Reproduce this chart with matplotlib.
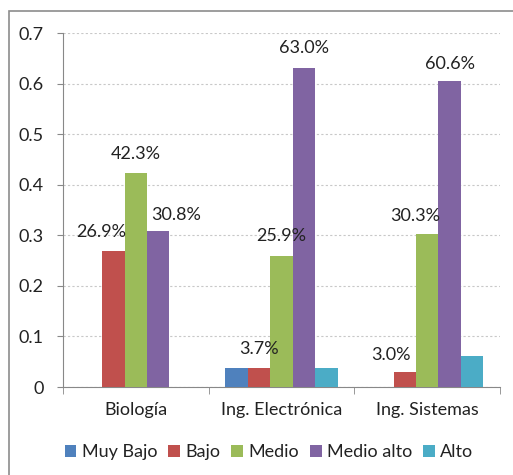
import matplotlib
matplotlib.use("Agg")
import matplotlib.pyplot as plt
import numpy as np
from matplotlib.patches import Rectangle

categories = ["Biología", "Ing. Electrónica", "Ing. Sistemas"]
series_names = ["Muy Bajo", "Bajo", "Medio", "Medio alto", "Alto"]
muy_bajo = [0.0, 0.037, 0.0]
bajo = [0.269, 0.037, 0.030]
medio = [0.423, 0.259, 0.303]
medio_alto = [0.308, 0.630, 0.606]
alto = [0.0, 0.037, 0.061]
yticks = [0, 0.1, 0.2, 0.3, 0.4, 0.5, 0.6, 0.7]
ytick_labels = ["0", "0.1", "0.2", "0.3", "0.4", "0.5", "0.6", "0.7"]
# labels: (series index, category index, text)
labels = [(1, 0, "26.9%"), (2, 0, "42.3%"), (3, 0, "30.8%"),
          (1, 1, "3.7%"), (2, 1, "25.9%"), (3, 1, "63.0%"),
          (1, 2, "3.0%"), (2, 2, "30.3%"), (3, 2, "60.6%")]
# label pixel offsets (dx, dy) from bar top center
label_offsets = [(-12, 19), (0, 19), (18, 16),
                 (0, 19), (0, 20), (0, 20),
                 (-14, 17), (-12, 18), (0, 17)]

colors = ["#4F81BD", "#C0504D", "#9BBB59", "#8064A2", "#4BACC6"]
values = [muy_bajo, bajo, medio, medio_alto, alto]

plt.rcParams['font.family'] = ['Lato', 'DejaVu Sans']
FS = 13

W, H = 513, 475
fig = plt.figure(figsize=(W / 100, H / 100), dpi=100)
ax = fig.add_axes([63 / W, 1 - 387 / H, 437 / W, 354 / H])

n = len(series_names)
bw = 0.154
x = np.arange(len(categories))
bars = []
for i, (name, vals, c) in enumerate(zip(series_names, values, colors)):
    b = ax.bar(x + (i - (n - 1) / 2) * bw, vals, bw, color=c, label=name, zorder=3)
    bars.append(b)

for (si, ci, txt), (dx, dy) in zip(labels, label_offsets):
    rect = bars[si][ci]
    ax.annotate(txt, (rect.get_x() + rect.get_width() / 2, rect.get_height()),
                xytext=(dx, dy), textcoords='offset pixels',
                ha='center', va='center', fontsize=FS, color='#222222')

ax.set_xlim(-0.5, len(categories) - 0.5)
ax.set_ylim(0, 0.7)
ax.set_yticks(yticks)
ax.set_yticklabels(ytick_labels, fontsize=FS, color='#222222')
ax.set_xticks(x)
ax.set_xticklabels(categories, fontsize=FS, color='#222222')
ax.tick_params(axis='x', length=0, pad=11)
ax.tick_params(axis='y', length=4, color='#888888', pad=10)
ax.set_xticks(np.arange(-0.5, len(categories), 1), minor=True)
ax.tick_params(axis='x', which='minor', length=5, color='#888888')
ax.grid(axis='y', linestyle=(0, (2, 2)), color='#C8C8C8', linewidth=0.8, zorder=0)
for s in ['top', 'right']:
    ax.spines[s].set_visible(False)
for s in ['left', 'bottom']:
    ax.spines[s].set_color('#888888')

leg = fig.legend(handles=bars, labels=series_names, loc='center', ncol=5,
                 bbox_to_anchor=(269 / W, 1 - 452 / H), frameon=False,
                 fontsize=FS, handlelength=0.65, handleheight=0.65,
                 handletextpad=0.3, columnspacing=0.6)
for t in leg.get_texts():
    t.set_color('#222222')

fig.patches.append(Rectangle((9 / W, -0.1), 1.2, 1 - 11 / H + 0.1, transform=fig.transFigure,
                             fill=False, edgecolor='#8C8C8C', linewidth=1.2, clip_on=False))

fig.savefig("out.png", dpi=100)
